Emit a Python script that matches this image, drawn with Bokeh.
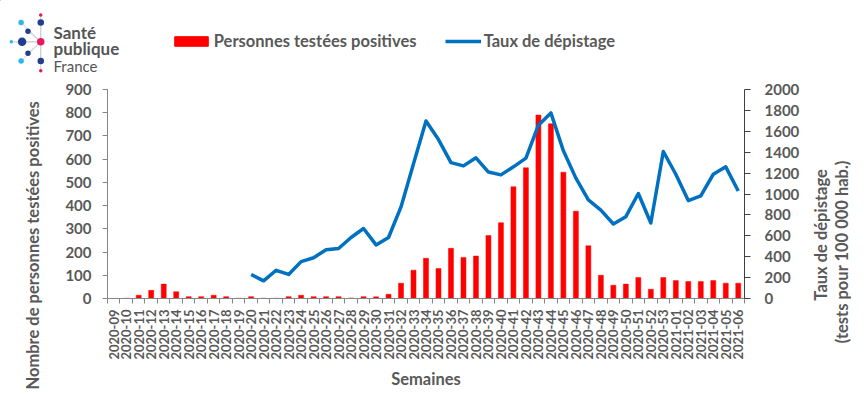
import math
from bokeh.plotting import figure
from bokeh.layouts import column, row
from bokeh.models import (Range1d, LinearAxis, FixedTicker, Legend, LegendItem,
                          ColumnDataSource, Title)
from bokeh.core.properties import value
from bokeh.embed import file_html
from bokeh.resources import INLINE

NAN = float("nan")

weeks = ["2020-09", "2020-10", "2020-11", "2020-12", "2020-13", "2020-14", "2020-15",
         "2020-16", "2020-17", "2020-18", "2020-19", "2020-20", "2020-21", "2020-22",
         "2020-23", "2020-24", "2020-25", "2020-26", "2020-27", "2020-28", "2020-29",
         "2020-30", "2020-31", "2020-32", "2020-33", "2020-34", "2020-35", "2020-36",
         "2020-37", "2020-38", "2020-39", "2020-40", "2020-41", "2020-42", "2020-43",
         "2020-44", "2020-45", "2020-46", "2020-47", "2020-48", "2020-49", "2020-50",
         "2020-51", "2020-52", "2020-53", "2021-01", "2021-02", "2021-03", "2021-04",
         "2021-05", "2021-06"]

positives = [0, 1, 14, 35, 62, 29, 8, 8, 14, 8, 1, 8, 1, 1, 8, 14, 8, 8, 8, 2, 8,
             7, 18, 66, 122, 173, 129, 216, 177, 183, 271, 326, 481, 563, 790,
             752, 544, 376, 227, 100, 57, 62, 90, 40, 90, 77, 73, 73, 77, 66, 66]

rate = [NAN, NAN, NAN, NAN, NAN, NAN, NAN, NAN, NAN, NAN, NAN,
        230, 169, 270, 230, 353, 390, 467, 479, 584, 670, 513, 584, 876, 1290,
        1699, 1521, 1300, 1269, 1346, 1210, 1183, 1260, 1343, 1659, 1776, 1413,
        1152, 943, 845, 713, 783, 1005, 722, 1407, 1189, 937, 983, 1189, 1260, 1029]

left_ticks = [0, 100, 200, 300, 400, 500, 600, 700, 800, 900]
right_ticks = [0, 200, 400, 600, 800, 1000, 1200, 1400, 1600, 1800, 2000]
right_title = ["Taux de dépistage", "(tests pour 100 000 hab.)"]

GREY = "#595959"
AXIS_GREY = "#868686"
FONT = "Lato"
RED = "#FF0000"
BLUE = "#0070C0"

W, H_TOTAL, H_HEAD = 851, 392, 75
H_MAIN = H_TOTAL - H_HEAD
W_MAIN = 802
W_SIDE = W - W_MAIN
SX, SY = 851 / 867, 392 / 408   # reference-pixel -> page-pixel scale

n = len(weeks)
idx = list(range(n))
src = ColumnDataSource(dict(x=idx, week=weeks, pos=positives, rate=rate))

# ---------------- header: logo + legend ----------------
hdr = figure(width=W, height=H_HEAD, x_range=Range1d(0, W), y_range=Range1d(H_HEAD, 0),
             x_axis_type=None, y_axis_type=None, toolbar_location=None,
             output_backend="svg", min_border=0)
hdr.frame_align = False
hdr.outline_line_color = None
hdr.background_fill_color = "white"
hdr.border_fill_color = "white"

DARK, LIGHT, PINK = "#233E8C", "#2DB7E8", "#E5195C"
logo_x = [41, 21, 41, 28, 11, 22, 41, 28, 21, 41, 41]
logo_y = [15, 23, 23, 32, 43, 43, 43, 55, 63, 63, 73]
logo_d = [3.5, 5.5, 6.5, 5.5, 3.5, 8.5, 7.5, 5.5, 5.5, 6.5, 3.5]
logo_c = [PINK, LIGHT, DARK, DARK, LIGHT, DARK, PINK, DARK, LIGHT, DARK, PINK]
lx = [v * SX for v in logo_x]
ly = [v * SY for v in logo_y]
hdr.segment(x0=lx, y0=ly, x1=[41 * SX] * len(lx), y1=[43 * SY] * len(ly),
            line_color="#CFCFCF", line_width=1)
hdr.scatter(x=lx, y=ly, size=logo_d, fill_color=logo_c, line_color=None)
hdr.text(x=[54 * SX, 54 * SX], y=[33 * SY, 50 * SY], text=["Santé", "publique"],
         text_font=value(FONT), text_font_style="bold", text_font_size="17px",
         text_color="#555555", text_baseline="alphabetic")
hdr.text(x=[54 * SX], y=[68 * SY], text=["France"],
         text_font=value(FONT), text_font_style="normal", text_font_size="15px",
         text_color="#555555", text_baseline="alphabetic")

# legend swatch renderers (kept outside the visible header range)
sw_bar = hdr.vbar(x=[-1000], top=[-1000], bottom=[-1001], width=0.4,
                  fill_color=RED, line_color=RED)
sw_line = hdr.line(x=[-1000, -999], y=[-1000, -1000], line_width=3.5, line_color=BLUE)
leg_y = H_HEAD - 53 * SY
leg1 = Legend(items=[LegendItem(label="Personnes testées positives", renderers=[sw_bar])],
              location=(173 * SX, leg_y), orientation="horizontal",
              glyph_width=42, glyph_height=12, label_standoff=2, padding=0, margin=0,
              border_line_color=None, background_fill_alpha=0,
              label_text_font=FONT, label_text_font_style="bold",
              label_text_font_size="16.5px", label_text_color=GREY)
leg2 = Legend(items=[LegendItem(label="Taux de dépistage", renderers=[sw_line])],
              location=(453 * SX, leg_y), orientation="horizontal",
              glyph_width=36, glyph_height=12, label_standoff=3, padding=0, margin=0,
              border_line_color=None, background_fill_alpha=0,
              label_text_font=FONT, label_text_font_style="bold",
              label_text_font_size="16.5px", label_text_color=GREY)
hdr.add_layout(leg1)
hdr.add_layout(leg2)

# ---------------- main chart ----------------
p = figure(width=W_MAIN, height=H_MAIN, x_range=Range1d(-0.5, n - 0.5),
           y_range=Range1d(0, 900), output_backend="svg", toolbar_location=None,
           min_border_left=105, min_border_right=W_MAIN - 105 - 639, min_border_top=14,
           min_border_bottom=94)
p.frame_align = False
p.extra_y_ranges = {"rate": Range1d(0, 2000)}
p.outline_line_color = None
p.xgrid.visible = False
p.ygrid.visible = False
p.background_fill_color = "white"
p.border_fill_color = "white"

bars = p.vbar(x="x", top="pos", width=0.4, source=src, fill_color=RED,
              line_color=RED, line_width=0.5)
line = p.line(x="x", y="rate", source=src, y_range_name="rate", line_width=3.5,
              line_color=BLUE, line_join="round")

# x axis
xa = p.xaxis[0]
xa.ticker = FixedTicker(ticks=idx, minor_ticks=[i - 0.5 for i in range(n + 1)])
xa.major_label_overrides = {i: w for i, w in enumerate(weeks)}
xa.major_label_orientation = math.pi / 2
xa.major_tick_line_color = None
xa.major_tick_out = 0
xa.major_tick_in = 0
xa.minor_tick_out = 5
xa.minor_tick_in = 0
xa.minor_tick_line_color = AXIS_GREY
xa.axis_line_color = AXIS_GREY
xa.major_label_standoff = 6
xa.major_label_text_font = FONT
xa.major_label_text_font_style = "bold"
xa.major_label_text_font_size = "13px"
xa.major_label_text_color = GREY
xa.axis_label = "Semaines"
xa.axis_label_text_font = FONT
xa.axis_label_text_font_style = "bold"
xa.axis_label_text_font_size = "16.5px"
xa.axis_label_text_color = GREY
xa.axis_label_standoff = 6

# left y axis
ya = p.yaxis[0]
ya.ticker = FixedTicker(ticks=left_ticks)
ya.major_tick_out = 5
ya.major_tick_in = 0
ya.minor_tick_line_color = None
ya.major_tick_line_color = AXIS_GREY
ya.axis_line_color = AXIS_GREY
ya.major_label_standoff = 11
ya.major_label_text_font = FONT
ya.major_label_text_font_style = "bold"
ya.major_label_text_font_size = "15px"
ya.major_label_text_color = GREY

left_title = Title(text="Nombre de personnes testées positives", align="left",
                   offset=-91, standoff=40, text_font=FONT, text_font_style="bold",
                   text_font_size="16.5px", text_color=GREY)
p.add_layout(left_title, "left")

# right y axis
ra = LinearAxis(y_range_name="rate", ticker=FixedTicker(ticks=right_ticks))
ra.major_tick_out = 6
ra.major_tick_in = 0
ra.minor_tick_line_color = None
ra.major_tick_line_color = "#404040"
ra.axis_line_color = "#404040"
ra.major_label_standoff = 14
ra.major_label_text_font = FONT
ra.major_label_text_font_style = "bold"
ra.major_label_text_font_size = "15px"
ra.major_label_text_color = GREY
p.add_layout(ra, "right")

# ---------------- right-hand axis title (two lines, reading upward) ----------------
side = figure(width=W_SIDE, height=H_MAIN, x_range=Range1d(0, W_SIDE),
              y_range=Range1d(0, H_MAIN), x_axis_type=None, y_axis_type=None,
              toolbar_location=None, output_backend="svg", min_border=0)
side.frame_align = False
side.outline_line_color = None
side.background_fill_color = "white"
side.border_fill_color = "white"
side.text(x=[836 * SX - W_MAIN, 857 * SX - W_MAIN],
          y=[H_TOTAL - 244 * SY, H_TOTAL - 261.5 * SY], text=right_title,
          angle=math.pi / 2, text_align="center", text_baseline="middle",
          text_font=value(FONT), text_font_style="bold", text_font_size="16.5px",
          text_color=GREY)

layout = column(hdr, row(p, side, spacing=0), spacing=0)
open("out.html", "w").write(file_html(layout, INLINE))
